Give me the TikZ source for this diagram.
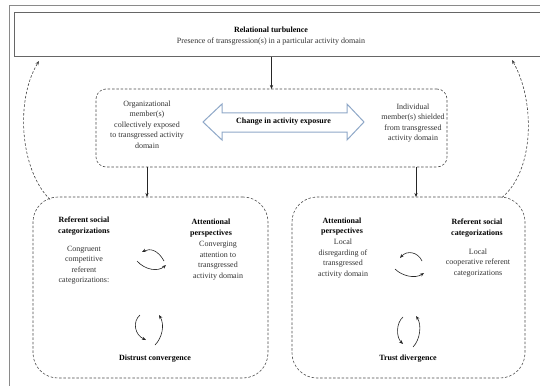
\documentclass[tikz,border=0pt]{standalone}
\usepackage{fontspec}
\setmainfont{Liberation Serif}
\usetikzlibrary{arrows.meta}
\definecolor{framegray}{HTML}{8A8A8A}
\definecolor{arrowblue}{HTML}{8FA8C8}
\definecolor{txtgray}{HTML}{333333}
\tikzset{
  x=1pt, y=-1pt,
  every node/.style={font=\fontsize{8}{10.5}\selectfont, inner sep=0pt, outer sep=0pt},
  txt/.style={align=center, text=txtgray},
  hd/.style={align=center, font=\fontsize{8}{10.5}\selectfont\bfseries},
  tip/.style={-{Stealth[length=4pt,width=3.2pt]}},
  solidarr/.style={tip, line width=0.6pt, draw=black!85},
  feed/.style={tip, line width=0.6pt, draw=black!75, dash pattern=on 2.5pt off 1.8pt},
  dbox/.style={draw=black!70, line width=0.6pt, dash pattern=on 2.5pt off 1.8pt},
}
\begin{document}
\begin{tikzpicture}
\path[use as bounding box, clip] (0,0) rectangle (540,385);
\fill[white] (0,0) rectangle (540,385);
% outer frame
\draw[framegray, line width=0.9pt] (9,400) -- (9,5) -- (560,5);
% top box
\node[draw=black!60, line width=1pt, minimum width=560pt, minimum height=44pt, anchor=north west] (top) at (14,13) {};
\node[hd] (toph) at (271,30) {Relational turbulence};
\node[txt] (topt) at (271,42) {Presence of transgression(s) in a particular activity domain};
% middle box
\node[dbox, rounded corners=10pt, minimum width=351pt, minimum height=78pt] (mid) at (271.5,128) {};
\draw[solidarr] (top.south -| mid.north) -- (mid.north);
\node[txt] (midl) at (147,124.5) {Organizational\\member(s)\\collectively exposed\\to transgressed activity\\domain};
\node[txt] (midr) at (413,123) {Individual\\member(s) shielded\\from transgressed\\activity domain};
\draw[arrowblue, line width=1pt, fill=white] (203,122) -- (222,104) -- (222,113) -- (347,113) -- (347,104) -- (364,122) -- (347,140) -- (347,132) -- (222,132) -- (222,140) -- cycle;
\node[hd] (chg) at (283.5,122) {Change in activity exposure};
% lower boxes
\node[dbox, rounded corners=25pt, minimum width=235pt, minimum height=181pt] (L) at (150.5,287.5) {};
\node[dbox, rounded corners=25pt, minimum width=233pt, minimum height=181pt] (R) at (408.5,287.5) {};
\draw[solidarr] ([xshift=-3.5pt]L.north |- mid.south) -- ([xshift=-3.5pt]L.north);
\draw[solidarr] ([xshift=7.5pt]R.north |- mid.south) -- ([xshift=7.5pt]R.north);
% feedback arrows
\coordinate (fl) at (50,199.5);
\coordinate (tl) at (39,61);
\coordinate (fr) at (502,197.5);
\coordinate (tr) at (512,60);
\draw[feed] (fl) .. controls (20,170) and (15,100) .. (tl);
\draw[feed] (fr) .. controls (535,170) and (535,100) .. (tr);
% left box texts
\node[hd] (lrh) at (84,226) {Referent social\\categorizations};
\node[txt] (lrt) at (84,265) {Congruent\\competitive\\referent\\categorizations:};
\node[hd] (lah) at (211,228) {Attentional\\perspectives};
\node[txt] (lat) at (218,260.5) {Converging\\attention to\\transgressed\\activity domain};
\node[hd] (ldc) at (155,359) {Distrust convergence};
% left box cycle arrows
\draw[solidarr] (164,261) .. controls (158,250) and (150,248) .. (142,252);
\draw[solidarr] (137,261) .. controls (145,270) and (158,272) .. (166,265);
\draw[solidarr] (140,315) .. controls (132,322) and (135,335) .. (146,340);
\draw[solidarr] (155,345) .. controls (162,338) and (165,325) .. (159,315);
% right box texts
\node[hd] (rah) at (342,226.5) {Attentional\\perspectives};
\node[txt] (rat) at (343,258.5) {Local\\disregarding of\\transgressed\\activity domain};
\node[hd] (rrh) at (477,228) {Referent social\\categorizations};
\node[txt] (rrt) at (478,263) {Local\\cooperative referent\\categorizations};
\node[hd] (rtd) at (408,359) {Trust divergence};
% right box cycle arrows
\draw[solidarr] (422,261) .. controls (418,252) and (407,250) .. (400,258);
\draw[solidarr] (395,269) .. controls (402,276) and (415,279) .. (424,273);
\draw[solidarr] (403,317) .. controls (396,323) and (396,337) .. (403,344);
\draw[solidarr] (413,347) .. controls (420,340) and (422,325) .. (416,316);
\end{tikzpicture}
\end{document}
